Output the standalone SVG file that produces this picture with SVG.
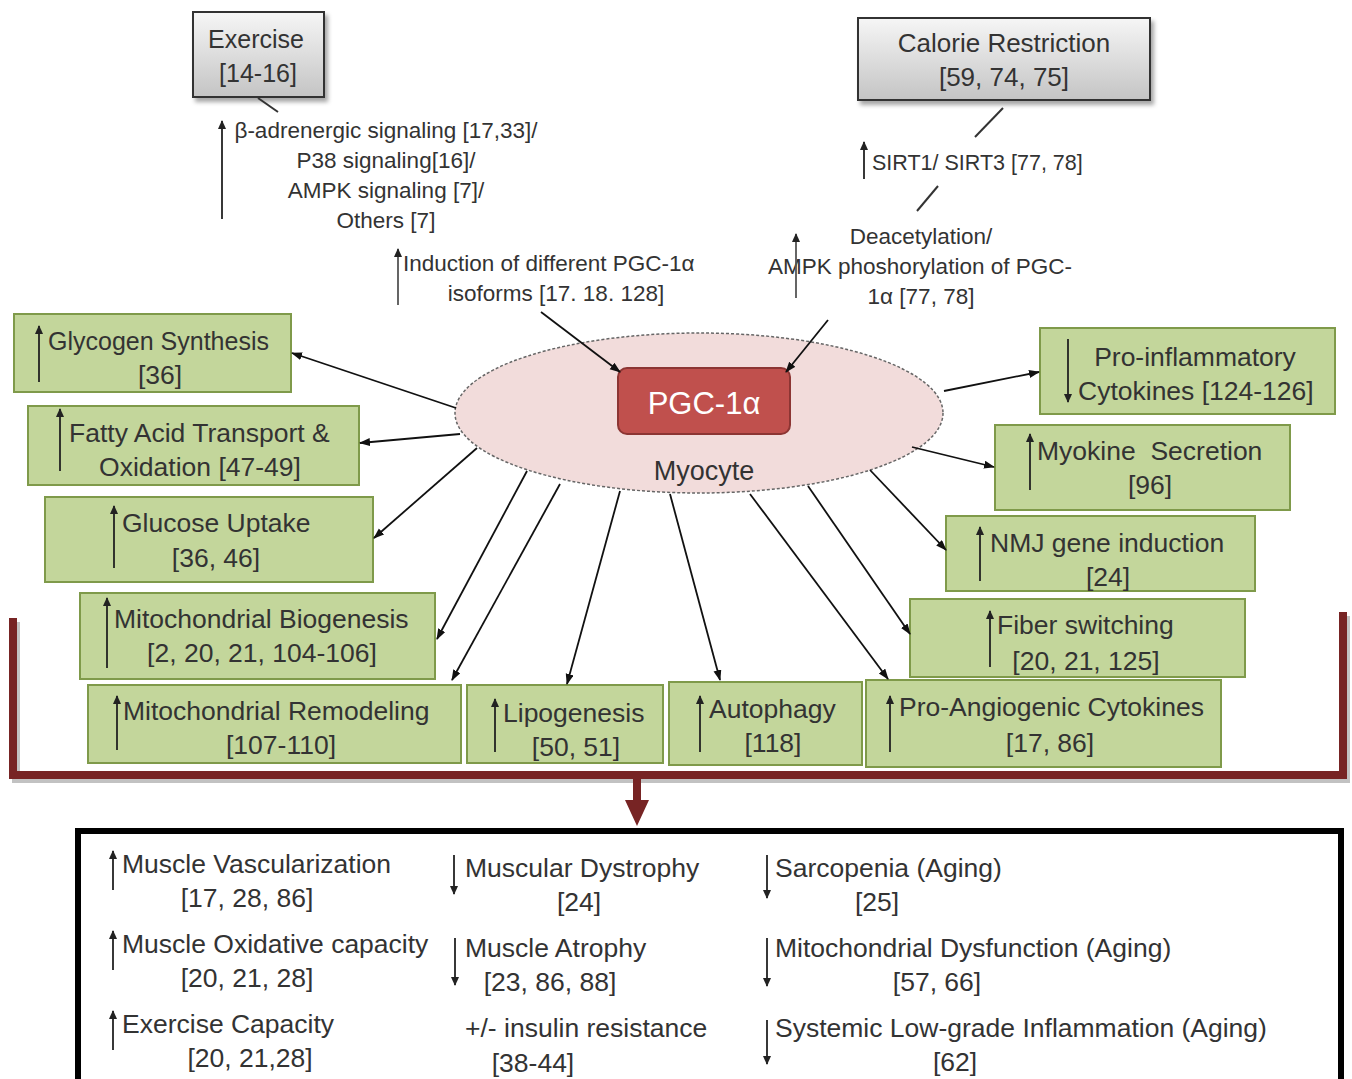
<svg xmlns="http://www.w3.org/2000/svg" width="1352" height="1079" viewBox="0 0 1352 1079">
<defs>
<linearGradient id="gray" x1="0" y1="0" x2="0" y2="1">
<stop offset="0" stop-color="#f6f6f6"/><stop offset="1" stop-color="#c4c4c4"/>
</linearGradient>
<marker id="ah" markerUnits="userSpaceOnUse" markerWidth="12" markerHeight="10" refX="10" refY="4" orient="auto">
<path d="M0,0 L11,4 L0,8 z" fill="#111"/>
</marker>
<marker id="sm" markerUnits="userSpaceOnUse" markerWidth="10" markerHeight="10" refX="8" refY="4" orient="auto">
<path d="M0,0 L9,4 L0,8 z" fill="#222"/>
</marker>
<filter id="sh" x="-10%" y="-10%" width="130%" height="140%">
<feDropShadow dx="3" dy="4" stdDeviation="2" flood-color="#000" flood-opacity="0.35"/>
</filter>
</defs>
<style>
text{font-family:"Liberation Sans",Arial,sans-serif;fill:#333}
.gb{fill:#c3d69b;stroke:#7f9a4a;stroke-width:2}
.bt{font-size:26.5px}
.tt{font-size:22.5px}
.ot{font-size:26.5px}
.conn{stroke:#111;stroke-width:1.8;fill:none;marker-end:url(#ah)}
.ua{stroke:#222;stroke-width:1.8;fill:none;marker-end:url(#sm)}
.gbox{fill:url(#gray);stroke:#333;stroke-width:2}
.plain{stroke:#333;stroke-width:2}
</style>
<rect width="1352" height="1079" fill="#fff"/>

<!-- Source nodes -->
<g id="exercise">
<rect class="gbox" x="193" y="12" width="131" height="85" filter="url(#sh)"/>
<text x="256" y="48" text-anchor="middle" style="font-size:25px">Exercise</text>
<text x="258" y="82" text-anchor="middle" style="font-size:25px">[14-16]</text>
</g>
<g id="calorie">
<rect class="gbox" x="858" y="18" width="292" height="82" filter="url(#sh)"/>
<text x="1004" y="52" text-anchor="middle" style="font-size:26px">Calorie Restriction</text>
<text x="1004" y="86" text-anchor="middle" style="font-size:26px">[59, 74, 75]</text>
</g>

<g id="exercise-signaling">
<text class="tt" x="386" y="138" text-anchor="middle">β-adrenergic signaling [17,33]/</text>
<text class="tt" x="386" y="168" text-anchor="middle">P38 signaling[16]/</text>
<text class="tt" x="386" y="198" text-anchor="middle">AMPK signaling [7]/</text>
<text class="tt" x="386" y="228" text-anchor="middle">Others [7]</text>
</g>
<g id="isoforms">
<text class="tt" x="403" y="271">Induction of different PGC-1α</text>
<text class="tt" x="556" y="301" text-anchor="middle">isoforms [17. 18. 128]</text>
</g>
<g id="sirt">
<text class="tt" x="872" y="170" style="font-size:21.5px">SIRT1/ SIRT3 [77, 78]</text>
</g>
<g id="deacetylation">
<text class="tt" x="921" y="244" text-anchor="middle">Deacetylation/</text>
<text class="tt" x="920" y="274" text-anchor="middle">AMPK phoshorylation of PGC-</text>
<text class="tt" x="921" y="304" text-anchor="middle">1α [77, 78]</text>
</g>

<!-- Myocyte -->
<g id="myocyte">
<ellipse cx="699" cy="413" rx="244" ry="80" fill="#f2dcdb" stroke="#666" stroke-width="1.5" stroke-dasharray="3,2"/>
<text x="704" y="480" text-anchor="middle" style="font-size:27px">Myocyte</text>
</g>
<g id="pgc1a">
<rect x="618" y="368" width="172" height="66" rx="9" fill="#c0504d" stroke="#8c3533" stroke-width="2"/>
<text x="704" y="414" text-anchor="middle" style="font-size:31px;fill:#fff">PGC-1α</text>
</g>

<!-- Left boxes -->
<g id="glycogen">
<rect class="gb" x="14" y="314" width="277" height="78"/>
<text class="bt" x="48" y="350" style="font-size:25px">Glycogen Synthesis</text>
<text class="bt" x="160" y="384" text-anchor="middle">[36]</text>
</g>
<g id="fatty-acid">
<rect class="gb" x="28" y="406" width="331" height="79"/>
<text class="bt" x="69" y="442">Fatty Acid Transport &amp;</text>
<text class="bt" x="200" y="476" text-anchor="middle">Oxidation [47-49]</text>
</g>
<g id="glucose">
<rect class="gb" x="45" y="497" width="328" height="85"/>
<text class="bt" x="122" y="532">Glucose Uptake</text>
<text class="bt" x="216" y="567" text-anchor="middle">[36, 46]</text>
</g>
<g id="mito-biogenesis">
<rect class="gb" x="80" y="593" width="355" height="86"/>
<text class="bt" x="114" y="628">Mitochondrial Biogenesis</text>
<text class="bt" x="262" y="662" text-anchor="middle">[2, 20, 21, 104-106]</text>
</g>
<g id="mito-remodeling">
<rect class="gb" x="88" y="685" width="373" height="78"/>
<text class="bt" x="123" y="720">Mitochondrial Remodeling</text>
<text class="bt" x="281" y="754" text-anchor="middle">[107-110]</text>
</g>
<g id="lipogenesis">
<rect class="gb" x="467" y="685" width="196" height="78"/>
<text class="bt" x="503" y="722">Lipogenesis</text>
<text class="bt" x="576" y="756" text-anchor="middle">[50, 51]</text>
</g>
<g id="autophagy">
<rect class="gb" x="669" y="682" width="193" height="83"/>
<text class="bt" x="709" y="718">Autophagy</text>
<text class="bt" x="773" y="752" text-anchor="middle">[118]</text>
</g>
<g id="pro-angiogenic">
<rect class="gb" x="866" y="680" width="355" height="87"/>
<text class="bt" x="899" y="716">Pro-Angiogenic Cytokines</text>
<text class="bt" x="1050" y="752" text-anchor="middle">[17, 86]</text>
</g>
<g id="fiber-switching">
<rect class="gb" x="910" y="599" width="335" height="78"/>
<text class="bt" x="997" y="634">Fiber switching</text>
<text class="bt" x="1086" y="670" text-anchor="middle">[20, 21, 125]</text>
</g>
<g id="nmj">
<rect class="gb" x="946" y="516" width="309" height="75"/>
<text class="bt" x="990" y="552">NMJ gene induction</text>
<text class="bt" x="1108" y="586" text-anchor="middle">[24]</text>
</g>
<g id="myokine">
<rect class="gb" x="995" y="425" width="295" height="85"/>
<text class="bt" x="1037" y="460" xml:space="preserve">Myokine  Secretion</text>
<text class="bt" x="1150" y="494" text-anchor="middle">[96]</text>
</g>
<g id="pro-inflammatory">
<rect class="gb" x="1040" y="328" width="295" height="86"/>
<text class="bt" x="1195" y="366" text-anchor="middle">Pro-inflammatory</text>
<text class="bt" x="1078" y="400">Cytokines [124-126]</text>
</g>

<!-- Bracket and outcome -->
<g id="bracket">
<path d="M13,618 V775 H1343 V612" fill="none" stroke="#999" stroke-width="8" transform="translate(3,4)" opacity="0.6"/>
<path d="M13,618 V775 H1343 V612" fill="none" stroke="#772424" stroke-width="8"/>
<path d="M633,779 V800 H625 L637,826 L649,800 H641 V779 z" fill="#772424"/>
</g>
<g id="outcomes">
<rect x="78" y="831" width="1263" height="252" fill="#fff" stroke="#000" stroke-width="6"/>
<text class="ot" x="122" y="873">Muscle Vascularization</text>
<text class="ot" x="247" y="907" text-anchor="middle">[17, 28, 86]</text>
<text class="ot" x="122" y="953">Muscle Oxidative capacity</text>
<text class="ot" x="247" y="987" text-anchor="middle">[20, 21, 28]</text>
<text class="ot" x="122" y="1033">Exercise Capacity</text>
<text class="ot" x="250" y="1067" text-anchor="middle">[20, 21,28]</text>
<text class="ot" x="465" y="877">Muscular Dystrophy</text>
<text class="ot" x="579" y="911" text-anchor="middle">[24]</text>
<text class="ot" x="465" y="957">Muscle Atrophy</text>
<text class="ot" x="550" y="991" text-anchor="middle">[23, 86, 88]</text>
<text class="ot" x="465" y="1037">+/- insulin resistance</text>
<text class="ot" x="533" y="1072" text-anchor="middle">[38-44]</text>
<text class="ot" x="775" y="877">Sarcopenia (Aging)</text>
<text class="ot" x="877" y="911" text-anchor="middle">[25]</text>
<text class="ot" x="775" y="957">Mitochondrial Dysfunction (Aging)</text>
<text class="ot" x="937" y="991" text-anchor="middle">[57, 66]</text>
<text class="ot" x="775" y="1037">Systemic Low-grade Inflammation (Aging)</text>
<text class="ot" x="955" y="1071" text-anchor="middle">[62]</text>
</g>

<!-- Connectors -->
<g id="connectors">
<line class="plain" x1="258" y1="98" x2="278" y2="112"/>
<line class="plain" x1="1003" y1="108" x2="975" y2="137"/>
<line class="plain" x1="938" y1="186" x2="917" y2="211"/>
<line class="ua" x1="222" y1="219" x2="222" y2="121"/>
<line class="ua" x1="398" y1="305" x2="398" y2="249" style="stroke:#555"/>
<line class="ua" x1="864" y1="179" x2="864" y2="142"/>
<line class="ua" x1="796" y1="298" x2="796" y2="234" style="stroke:#555"/>
<line class="conn" x1="541" y1="312" x2="620" y2="372"/>
<line class="conn" x1="828" y1="320" x2="786" y2="372"/>
<line class="conn" x1="456" y1="408" x2="292" y2="353"/>
<line class="conn" x1="460" y1="434" x2="360" y2="443"/>
<line class="conn" x1="477" y1="448" x2="374" y2="538"/>
<line class="conn" x1="527" y1="471" x2="437" y2="639"/>
<line class="conn" x1="560" y1="484" x2="452" y2="680"/>
<line class="conn" x1="620" y1="491" x2="567" y2="684"/>
<line class="conn" x1="670" y1="494" x2="720" y2="680"/>
<line class="conn" x1="750" y1="494" x2="888" y2="679"/>
<line class="conn" x1="808" y1="486" x2="910" y2="634"/>
<line class="conn" x1="870" y1="470" x2="946" y2="550"/>
<line class="conn" x1="912" y1="447" x2="994" y2="467"/>
<line class="conn" x1="944" y1="391" x2="1039" y2="372"/>
<!-- indicator arrows -->
<line class="ua" x1="39" y1="382" x2="39" y2="326"/>
<line class="ua" x1="60" y1="471" x2="60" y2="409"/>
<line class="ua" x1="114" y1="568" x2="114" y2="506"/>
<line class="ua" x1="107" y1="668" x2="107" y2="598"/>
<line class="ua" x1="117" y1="750" x2="117" y2="696"/>
<line class="ua" x1="495" y1="752" x2="495" y2="699"/>
<line class="ua" x1="700" y1="752" x2="700" y2="696"/>
<line class="ua" x1="890" y1="752" x2="890" y2="696"/>
<line class="ua" x1="990" y1="667" x2="990" y2="611"/>
<line class="ua" x1="980" y1="581" x2="980" y2="527"/>
<line class="ua" x1="1030" y1="490" x2="1030" y2="434"/>
<line class="ua" x1="1068" y1="339" x2="1068" y2="402"/>
<line class="ua" x1="113" y1="890" x2="113" y2="851"/>
<line class="ua" x1="113" y1="970" x2="113" y2="931"/>
<line class="ua" x1="113" y1="1050" x2="113" y2="1011"/>
<line class="ua" x1="454" y1="855" x2="454" y2="894"/>
<line class="ua" x1="455" y1="938" x2="455" y2="985"/>
<line class="ua" x1="767" y1="855" x2="767" y2="898"/>
<line class="ua" x1="767" y1="938" x2="767" y2="986"/>
<line class="ua" x1="767" y1="1020" x2="767" y2="1064"/>
</g>
</svg>
